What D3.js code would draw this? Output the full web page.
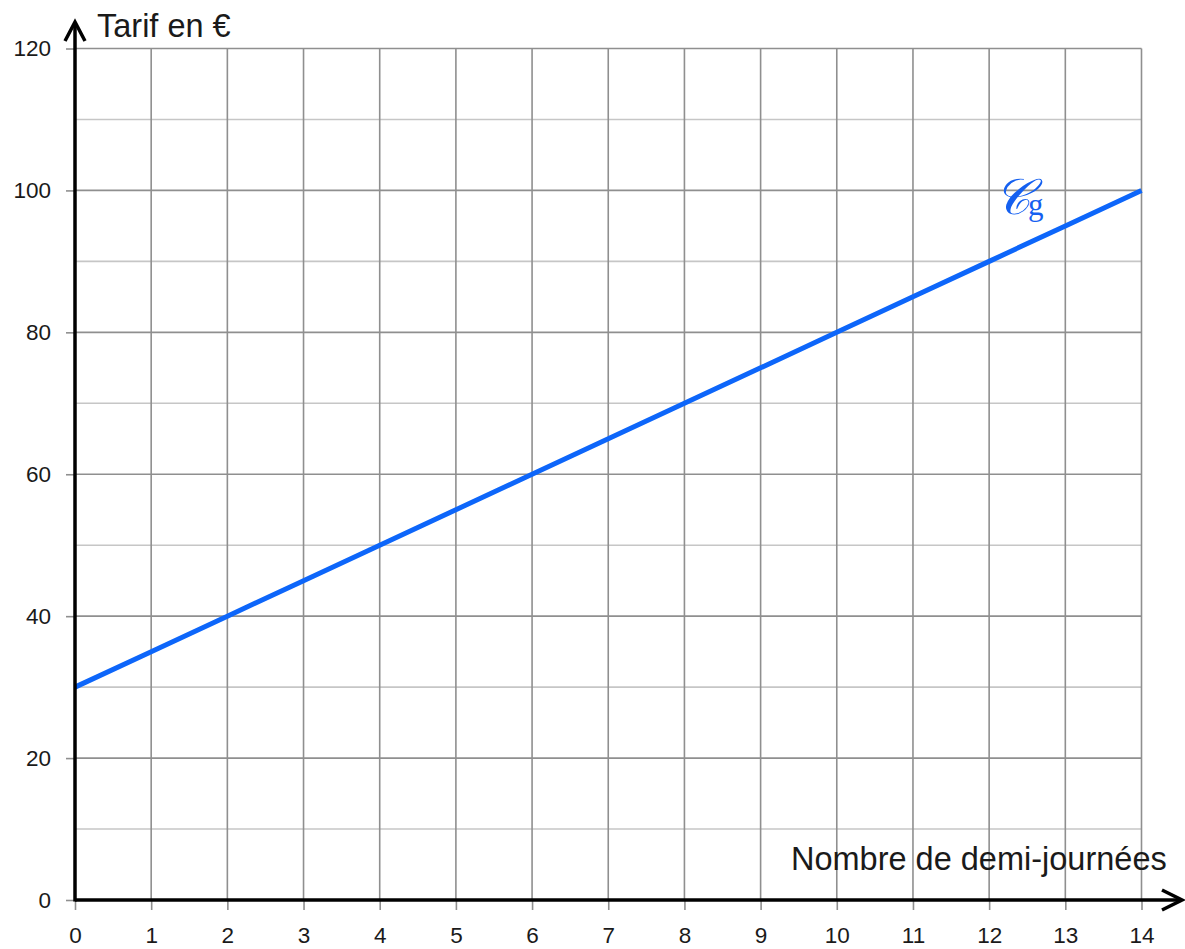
<!DOCTYPE html>
<html>
<head>
<meta charset="utf-8">
<script src="https://cdn.jsdelivr.net/npm/d3@7"></script>
<style>
  body { margin: 0; background: #fff; }
  svg { display: block; }
</style>
</head>
<body>
<div class="rellenar"></div>
<script>
// donnees de la courbe Cg (tarif selon le nombre de demi-journees)
var demiJournees = [0, 1, 2, 3, 4, 5, 6, 7, 8, 9, 10, 11, 12, 13, 14];
var tarifs = [30, 35, 40, 45, 50, 55, 60, 65, 70, 75, 80, 85, 90, 95, 100];
var xTicks = [0, 1, 2, 3, 4, 5, 6, 7, 8, 9, 10, 11, 12, 13, 14];
var yTicks = [0, 20, 40, 60, 80, 100, 120];
var yGrilleFine = [10, 30, 50, 70, 90, 110];

var w = 1185;
var h = 949;

var svg = d3.select('.rellenar')
    .append('svg')
    .attr("width", w)
    .attr("height", h);

var x = d3.scaleLinear().domain([0, 14]).range([75, 1141.5]);
var y = d3.scaleLinear().domain([0, 120]).range([900, 48.5]);

// grille secondaire (pas de 10)
svg.append("g").selectAll("line")
    .data(yGrilleFine)
    .enter()
    .append("line")
    .attr("x1", x(0))
    .attr("x2", x(14))
    .attr("y1", function(d) { return y(d); })
    .attr("y2", function(d) { return y(d); })
    .attr("stroke", "#c6c6c6")
    .attr("stroke-width", 1.6);

// grille principale
svg.append("g").selectAll("line")
    .data(yTicks.slice(1))
    .enter()
    .append("line")
    .attr("x1", x(0))
    .attr("x2", x(14))
    .attr("y1", function(d) { return y(d); })
    .attr("y2", function(d) { return y(d); })
    .attr("stroke", "#8f8f8f")
    .attr("stroke-width", 1.6);

svg.append("g").selectAll("line")
    .data(xTicks.slice(1))
    .enter()
    .append("line")
    .attr("x1", function(d) { return x(d); })
    .attr("x2", function(d) { return x(d); })
    .attr("y1", y(0))
    .attr("y2", y(120))
    .attr("stroke", "#8f8f8f")
    .attr("stroke-width", 1.6);

// axes avec graduations
var axeX = svg.append("g")
    .attr("transform", "translate(0," + y(0) + ")")
    .call(d3.axisBottom(x).tickValues(xTicks).tickSize(10).tickPadding(17).tickFormat(d3.format("d")));

var axeY = svg.append("g")
    .attr("transform", "translate(" + x(0) + ",0)")
    .call(d3.axisLeft(y).tickValues(yTicks).tickSize(9).tickPadding(15).tickFormat(d3.format("d")));

[axeX, axeY].forEach(function(a) {
    a.select(".domain").remove();
    a.selectAll(".tick line").attr("stroke", "#8f8f8f").attr("stroke-width", 1.6);
    a.selectAll("text")
        .attr("font-family", "Liberation Sans, Arial, sans-serif")
        .attr("font-size", 22.5)
        .attr("fill", "#1a1a1a");
});

// courbe
var ligne = d3.line()
    .x(function(d, i) { return x(demiJournees[i]); })
    .y(function(d) { return y(d); });

svg.append("path")
    .datum(tarifs)
    .attr("d", ligne)
    .attr("fill", "none")
    .attr("stroke", "#0d66fa")
    .attr("stroke-width", 5);

// axes noirs avec fleches
svg.append("line")
    .attr("x1", x(0)).attr("y1", y(0))
    .attr("x2", 1181).attr("y2", y(0))
    .attr("stroke", "#000").attr("stroke-width", 3.5);
svg.append("line")
    .attr("x1", x(0)).attr("y1", y(0) + 1.5)
    .attr("x2", x(0)).attr("y2", 23)
    .attr("stroke", "#000").attr("stroke-width", 3.5);

svg.append("path")
    .attr("d", "M" + (x(0) - 10) + ",41L" + x(0) + ",22L" + (x(0) + 10) + ",41")
    .attr("fill", "none").attr("stroke", "#000").attr("stroke-width", 3.5);
svg.append("path")
    .attr("d", "M1162," + (y(0) - 10) + "L1182," + y(0) + "L1162," + (y(0) + 10))
    .attr("fill", "none").attr("stroke", "#000").attr("stroke-width", 3.5);

// titres des axes
svg.append("text")
    .text("Tarif en €")
    .attr("x", 97)
    .attr("y", 37)
    .attr("font-family", "Liberation Sans, Arial, sans-serif")
    .attr("font-size", 32.5)
    .attr("fill", "#1a1a1a");

svg.append("text")
    .text("Nombre de demi-journées")
    .attr("x", 791)
    .attr("y", 870)
    .attr("font-family", "Liberation Sans, Arial, sans-serif")
    .attr("font-size", 32.5)
    .attr("fill", "#1a1a1a");

// nom de la courbe
var nom = svg.append("text")
    .attr("fill", "#1560f0");
nom.append("tspan")
    .text("𝒞")
    .attr("x", 994)
    .attr("y", 214)
    .attr("font-family", "DejaVu Serif, serif")
    .attr("font-size", 50)
    .attr("font-style", "italic");
nom.append("tspan")
    .text("g")
    .attr("x", 1028)
    .attr("y", 215)
    .attr("font-family", "Liberation Serif, serif")
    .attr("font-size", 31);
</script>
</body>
</html>
